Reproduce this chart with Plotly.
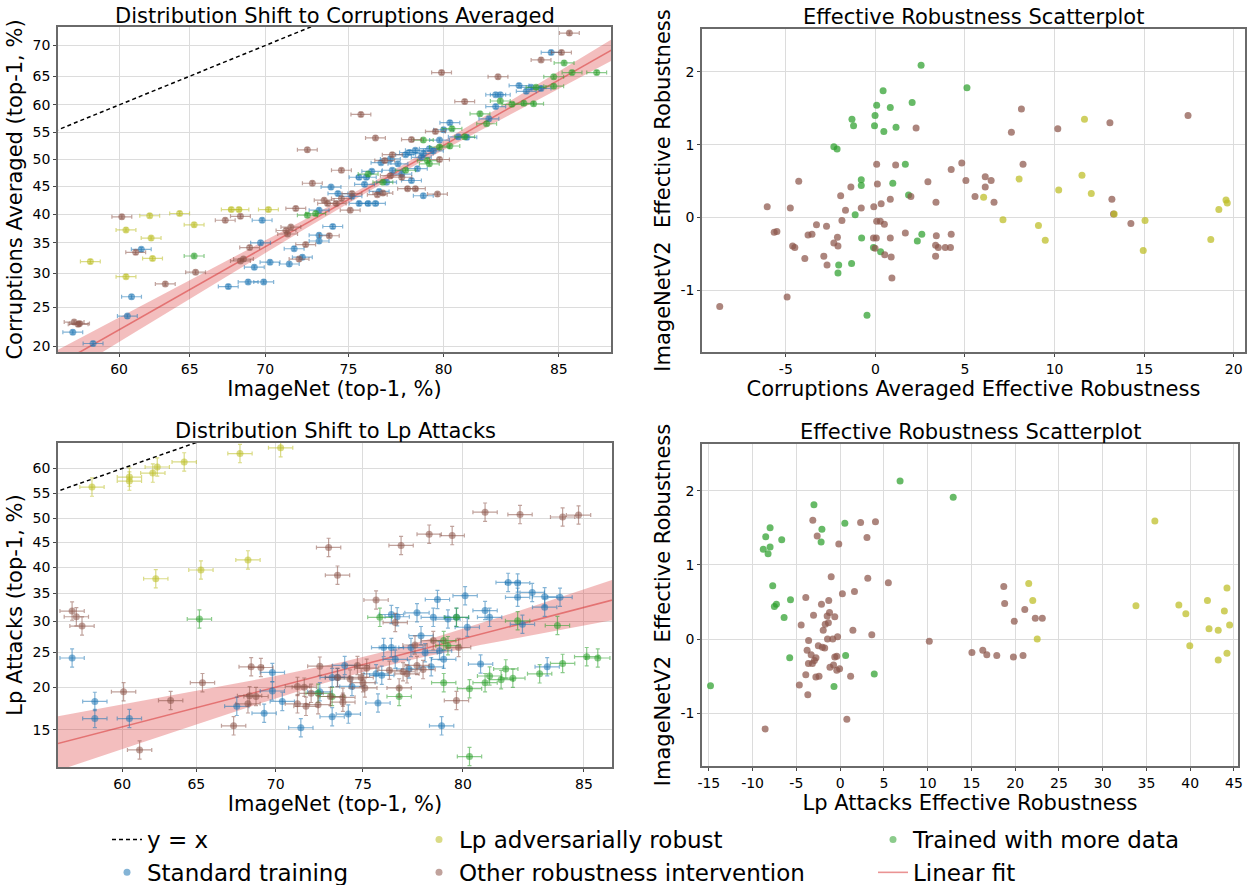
import math
import numpy as np
import plotly.graph_objects as go

# ---------------- DATA ----------------
# Top-left: ImageNet top-1 (%) vs Corruptions Averaged top-1 (%)
std_in_c = [84.7, 56.6, 58.1, 60.6, 60.9, 61.6, 67.6, 68.9, 69.9, 69.3, 70.3, 71.5, 69.7, 69.8, 71.8, 73.3, 73.3, 72.3,
            74.1, 74.0, 74.4, 73.3, 75.6, 76.0, 75.9, 75.6, 76.1, 76.5, 76.7, 76.8, 78.1, 78.6, 79.0, 79.3, 78.7, 78.4,
            79.0, 80.3, 80.0, 79.8, 80.7, 81.1, 82.4, 82.6, 83.4, 83.9, 84.3, 82.4, 82.1, 77.3, 77.7, 77.1, 77.4, 77.9,
            78.9, 78.3, 79.5, 76.3, 75.2, 83.7]
std_cor = [68.9, 21.7, 20.3, 23.8, 26.5, 33.9, 28.0, 28.7, 28.7, 31.0, 31.8, 31.5, 35.0, 38.9, 34.0, 36.3, 35.3, 32.6,
           37.8, 44.9, 43.7, 40.7, 46.7, 46.7, 45.4, 41.9, 41.9, 41.9, 44.1, 49.4, 50.9, 51.7, 51.1, 52.0, 48.3, 46.1,
           43.3, 56.8, 55.5, 53.6, 54.2, 54.1, 61.8, 61.8, 63.4, 63.1, 62.9, 59.7, 57.5, 50.1, 49.2, 45.8, 48.0, 47.3,
           50.4, 51.3, 51.6, 47.8, 43.2, 62.4]
lp_in_c = [57.9, 60.5, 60.5, 62.2, 62.3, 62.4, 64.3, 65.3, 67.8, 68.3, 70.2]
lp_cor = [31.9, 29.5, 37.2, 39.7, 35.8, 32.4, 40.1, 38.1, 40.8, 40.8, 40.8]
oth_in_c = [85.4, 85.1, 84.3, 79.9, 82.5, 81.0, 75.7, 76.5, 78.4, 79.6, 72.6, 79.8, 74.6, 77.4, 77.0, 72.9, 78.6, 78.2,
            79.7, 76.9, 76.6, 77.3, 77.9, 75.2, 75.1, 74.6, 74.3, 73.8, 73.6, 71.9, 68.4, 67.4, 60.2, 61.2, 63.3, 65.4,
            69.0, 68.6, 68.4, 71.4, 71.3, 71.6, 72.5, 72.1, 73.9, 56.7, 57.1, 57.0]
oth_cor = [71.9, 68.9, 67.7, 65.6, 64.9, 60.6, 58.3, 54.0, 53.7, 55.2, 51.8, 50.0, 48.0, 50.9, 49.8, 45.6, 44.6, 44.6,
           43.6, 43.8, 43.5, 47.0, 46.7, 43.7, 40.7, 42.8, 41.9, 41.9, 42.5, 41.0, 39.6, 38.9, 39.5, 33.4, 28.4, 30.2,
           34.2, 32.3, 32.0, 36.5, 37.1, 37.7, 34.7, 32.3, 36.2, 23.0, 22.8, 22.7]
more_in_c = [86.4, 85.5, 85.2, 84.8, 84.8, 84.1, 83.6, 83.1, 82.6, 84.0, 81.7, 82.0, 80.4, 81.0, 80.3, 79.0, 79.8, 79.2,
             79.3, 78.1, 76.1, 76.9, 72.6, 73.1, 65.3]
more_cor = [65.6, 65.6, 67.2, 64.9, 63.3, 63.1, 60.3, 60.1, 60.7, 60.2, 58.4, 56.6, 55.7, 54.2, 52.5, 53.6, 52.3, 49.8,
            49.2, 48.0, 47.3, 45.8, 39.8, 40.1, 32.8]

# Bottom-left: ImageNet top-1 (%) vs Lp Attacks top-1 (%)
std_in_l = [56.5, 58.1, 58.1, 60.5, 67.6, 69.3, 70.4, 71.5, 69.8, 69.8, 73.3, 74.2, 75.8, 73.3, 74.0, 74.4, 76.1, 76.5,
            76.8, 77.8, 78.6, 78.8, 79.3, 79.7, 80.1, 80.2, 81.0, 81.2, 82.0, 82.4, 82.4, 83.0, 83.5, 83.5, 84.1, 82.6,
            83.6, 80.8, 79.0, 79.1, 78.0, 77.5, 77.4, 78.2, 76.7, 76.5, 75.7, 76.0, 73.6, 72.6, 78.5, 78.9]
std_lp = [24.1, 18.2, 16.2, 16.2, 17.6, 16.8, 18.2, 15.2, 22.0, 19.5, 16.4, 16.7, 18.0, 21.3, 23.0, 20.1, 25.7, 31.2,
          30.8, 31.5, 30.7, 33.9, 30.4, 30.7, 34.6, 29.0, 31.9, 30.7, 37.1, 37.0, 34.3, 35.2, 34.4, 32.5, 34.3, 29.5,
          22.8, 23.2, 15.4, 23.9, 27.6, 25.7, 22.5, 24.9, 23.9, 25.7, 21.8, 21.6, 21.3, 19.4, 22.8, 25.2]
lp_in_l = [57.9, 60.5, 60.5, 62.1, 62.4, 64.2, 67.8, 70.3, 62.3, 65.3, 68.3]
lp_lp = [56.3, 58.3, 57.5, 59.1, 60.3, 61.3, 62.9, 64.0, 37.8, 39.5, 41.5]
oth_in_l = [56.5, 56.8, 57.2, 60.1, 63.3, 65.4, 61.2, 67.4, 68.5, 69.1, 68.4, 68.8, 68.3, 73.1, 73.6, 75.7, 77.0, 78.4,
            79.5, 81.0, 82.5, 84.2, 84.8, 76.7, 72.6, 75.2, 77.7, 78.6, 79.8, 79.7, 76.9, 71.3, 71.7, 72.1, 72.5, 71.8,
            71.3, 73.2, 73.9, 73.9, 73.6, 74.3, 75.0, 75.1, 74.9, 74.7, 76.4, 77.1, 77.8, 77.3, 78.1]
oth_lp = [31.8, 30.8, 29.2, 19.4, 18.3, 20.6, 13.0, 15.4, 22.8, 22.7, 18.9, 18.8, 17.9, 44.0, 38.5, 33.8, 44.4, 46.7,
          46.4, 51.2, 50.7, 50.2, 50.6, 29.8, 22.9, 22.6, 26.1, 26.8, 25.7, 18.3, 19.9, 20.1, 20.0, 19.2, 17.8, 17.6,
          17.9, 18.8, 18.7, 18.1, 21.3, 21.1, 20.6, 19.9, 21.3, 23.0, 22.3, 22.1, 23.0, 21.8, 22.4]
more_in_l = [65.2, 75.9, 79.7, 82.4, 84.0, 72.5, 73.3, 76.9, 79.1, 79.1, 79.3, 80.3, 81.0, 81.2, 81.7, 81.9, 82.2, 83.3,
             84.2, 85.1, 85.5, 80.3]
more_lp = [30.4, 30.7, 30.7, 30.1, 29.3, 19.2, 18.8, 18.8, 20.6, 26.8, 26.0, 19.8, 20.6, 21.5, 21.0, 22.5, 21.2, 21.8,
           23.3, 24.3, 24.1, 12.4]

# Top-right: Corruptions effective robustness vs ImageNetV2 effective robustness
more_cer = [2.55, 0.43, 5.11, 2.05, 0.07, 0.83, -1.31, -0.02, -1.22, -0.05, 1.15, 0.47, -2.32, -2.14, 1.67, -0.79, -0.79,
            0.97, 1.85, -1.13, -0.77, -0.11, 0.29, 2.59, 2.34, -1.33, -2.05, -2.09, -0.47]
more_v2c = [2.09, 1.74, 1.78, 1.58, 1.54, 1.51, 1.35, 1.40, 1.26, 1.26, 1.24, 1.18, 0.97, 0.94, 0.73, 0.52, 0.44, 0.47,
            0.31, 0.04, -0.28, -0.41, -0.47, -0.23, -0.32, -0.63, -0.65, -0.76, -1.34]
lp_cer = [11.67, 8.02, 6.04, 11.53, 10.23, 12.05, 7.12, 9.10, 9.48, 13.33, 15.05, 14.95, 18.72, 19.17, 19.57, 19.64]
lp_v2c = [1.35, 0.53, 0.28, 0.58, 0.38, 0.33, -0.03, -0.11, -0.31, 0.05, -0.04, -0.45, -0.30, 0.11, 0.24, 0.20]
oth_cer = [17.45, 8.15, 13.09, 7.59, 10.18, 2.27, 0.07, 1.13, 4.82, 8.24, 4.23, -4.28, 2.93, 5.05, 6.13, 6.46, 6.13,
           -1.37, 0.11, -1.94, 5.56, 1.98, 0.83, 13.20, 3.38, 6.62, 0.32, -0.09, -0.79, -6.04, -4.75, -1.67, 13.29,
           -1.87, 0.07, 0.27, 0.50, 14.26, -3.29, -2.73, -5.65, -5.50, -3.76, -3.54, -2.12, 1.67, 3.40, 4.23, -0.11,
           0.05, 0.83, -2.32, -2.09, -4.62, -4.50, -0.02, 3.36, 3.51, 3.90, 4.19, -3.94, -2.88, -2.70, 0.52, 0.88,
           3.36, 0.92, -4.93, -8.69]
oth_v2c = [1.40, 1.49, 1.30, 1.17, 1.22, 1.23, 0.73, 0.72, 0.75, 0.73, 0.66, 0.50, 0.49, 0.51, 0.56, 0.51, 0.42, 0.42,
           0.46, 0.30, 0.29, 0.29, 0.25, 0.25, 0.21, 0.21, 0.19, 0.15, 0.13, 0.15, 0.13, 0.10, 0.05, -0.04, -0.05, -0.05,
           -0.09, -0.08, -0.10, -0.12, -0.20, -0.19, -0.24, -0.23, -0.27, -0.21, -0.25, -0.23, -0.28, -0.28, -0.28,
           -0.35, -0.39, -0.39, -0.41, -0.42, -0.38, -0.41, -0.41, -0.41, -0.56, -0.53, -0.65, -0.51, -0.54, -0.53,
           -0.83, -1.09, -1.22]

# Bottom-right: Lp attacks effective robustness vs ImageNetV2 effective robustness
more_ler = [-14.81, 6.85, 12.92, -2.99, -8.0, -8.5, -6.67, -8.0, -8.78, -8.23, -2.08, -2.17, 0.54, -7.70, -7.28, -7.51,
            -5.67, -6.4, -5.76, 0.63, 3.90, -0.70]
more_v2l = [-0.63, 2.13, 1.91, 1.81, 1.50, 1.38, 1.34, 1.24, 1.21, 1.15, 1.48, 1.31, 1.56, 0.72, 0.47, 0.44, 0.53, 0.29,
            -0.25, -0.22, -0.47, -0.64]
lp_ler = [35.96, 21.55, 22.01, 22.52, 33.8, 38.7, 39.5, 39.95, 41.97, 42.15, 43.2, 43.2, 43.9, 44.2, 44.2, 44.5]
lp_v2l = [1.59, 0.75, 0.52, 0.00, 0.45, 0.46, 0.34, -0.09, 0.52, 0.14, -0.28, 0.12, 0.38, 0.69, -0.19, 0.19]
oth_ler = [-3.12, -2.62, -0.15, 2.34, 4.04, 3.07, -1.02, 3.16, 5.51, 1.64, 0.26, -3.92, -1.30, -2.13, -1.21, -3.04,
           -1.48, -0.61, -1.34, -1.70, -1.93, -4.45, 1.46, 3.62, -0.29, -1.44, -0.84, -3.60, -2.49, -2.03, -1.76,
           -3.77, -3.31, -2.76, -0.61, -0.38, -2.94, -3.62, -3.17, -0.75, -1.16, -0.06, -0.38, -3.92, -2.77, -2.41,
           1.20, -4.66, -3.69, 0.77, -8.57, 10.19, 15.06, 16.3, 16.76, 17.9, 19.8, 20.9, 18.7, 18.8, 21.1, 19.9,
           22.3, 23.1]
oth_v2l = [1.60, 1.39, 1.28, 1.57, 1.58, 1.37, 0.84, 0.82, 0.76, 0.64, 0.61, 0.56, 0.52, 0.47, 0.36, 0.32, 0.31, 0.30,
           0.22, 0.20, 0.12, 0.19, 0.12, 0.06, 0.03, 0.00, 0.00, -0.02, -0.09, -0.11, -0.12, -0.15, -0.21, -0.25, -0.24,
           -0.23, -0.29, -0.33, -0.33, -0.35, -0.38, -0.40, -0.42, -0.48, -0.51, -0.50, -0.50, -0.62, -0.75, -1.08,
           -1.21, -0.03, -0.18, -0.15, -0.21, -0.22, -0.24, -0.22, 0.71, 0.48, 0.40, 0.24, 0.28, 0.28]

# Linear fits (in logit space): slope, intercept, band centre (%), band half-width at centre, band growth
fit_cor = dict(slope=1.397, intercept=-1.832, centre=76.9, h0=0.025, k=0.109)
fit_lp = dict(slope=0.737, intercept=-2.011, centre=75.95, h0=0.06, k=0.23)

# Axis ticks / ranges
x_ticks_in = [60, 65, 70, 75, 80, 85]
y_ticks_cor = [20, 25, 30, 35, 40, 45, 50, 55, 60, 65, 70]
y_ticks_lp = [15, 20, 25, 30, 35, 40, 45, 50, 55, 60]
range_in_top = [55.5, 86.9]
range_cor = [19.3, 72.8]
range_in_bot = [55.5, 86.0]
range_lp = [11.5, 64.9]
range_cer = [-9.68, 20.63]
range_v2_top = [-1.844, 2.587]
range_ler = [-15.78, 45.46]
range_v2_bot = [-1.71, 2.629]
ticks_cer = [-5, 0, 5, 10, 15, 20]
ticks_ler = [-15, -10, -5, 0, 5, 10, 15, 20, 25, 30, 35, 40, 45]
ticks_v2 = [-1, 0, 1, 2]

# ---------------- STYLE ----------------
W, H = 1256, 885
FONT = "DejaVu Sans"
C = dict(std=(31, 119, 180), lp=(188, 189, 34), more=(44, 160, 44), oth=(140, 86, 75), fit=(214, 39, 40))
NAMES = dict(std="Standard training", lp="Lp adversarially robust", oth="Other robustness intervention",
             more="Trained with more data")


def rgba(c, a):
    return f"rgba({c[0]},{c[1]},{c[2]},{a})"


def logit(vals):
    return [math.log(v / (100.0 - v)) for v in vals]


def lg(v):
    return math.log(v / (100.0 - v))


fig = go.Figure()

LEG = dict(std=("legend", 2), lp=("legend2", 1), oth=("legend2", 2), more=("legend3", 1))


def add_fit(fit, xr, xa, ya, show):
    xs = np.linspace(lg(xr[0]) - 0.05, lg(xr[1]) + 0.05, 200)
    yc = fit["slope"] * xs + fit["intercept"]
    hw = np.sqrt(fit["h0"] ** 2 + fit["k"] ** 2 * (xs - lg(fit["centre"])) ** 2)
    fig.add_trace(go.Scatter(x=np.concatenate([xs, xs[::-1]]), y=np.concatenate([yc + hw, (yc - hw)[::-1]]),
                             fill="toself", fillcolor=rgba(C["fit"], 0.3), line=dict(width=0), mode="lines",
                             hoverinfo="skip", showlegend=False, xaxis=xa, yaxis=ya))
    fig.add_trace(go.Scatter(x=xs, y=yc, mode="lines", line=dict(color=rgba(C["fit"], 0.5), width=1.6),
                             name="Linear fit", showlegend=show, legend="legend3", legendrank=2,
                             legendgroup="fit", xaxis=xa, yaxis=ya))


def add_yx(xr, xa, ya, show):
    xs = np.linspace(lg(xr[0]) - 0.05, lg(xr[1]) + 0.05, 50)
    fig.add_trace(go.Scatter(x=xs, y=xs, mode="lines", line=dict(color="black", width=1.5, dash="4px,3px"),
                             name="y = x", showlegend=show, legend="legend", legendrank=1, legendgroup="yx",
                             xaxis=xa, yaxis=ya))


def add_err(key, xs, ys, xerr, yerr, xa, ya, show):
    col = C[key]
    fig.add_trace(go.Scatter(
        x=logit(xs), y=logit(ys), mode="markers", name=NAMES[key],
        marker=dict(size=7, color=rgba(col, 0.55), line=dict(width=0)),
        error_x=dict(type="data", array=[xerr] * len(xs), color=rgba(col, 0.55), thickness=1.2, width=2),
        error_y=dict(type="data", array=[yerr] * len(ys), color=rgba(col, 0.55), thickness=1.2, width=2),
        showlegend=show, legend=LEG[key][0], legendrank=LEG[key][1], legendgroup=key, xaxis=xa, yaxis=ya))


def add_sc(key, xs, ys, xa, ya):
    fig.add_trace(go.Scatter(x=xs, y=ys, mode="markers", name=NAMES[key],
                             marker=dict(size=7, color=rgba(C[key], 0.72), line=dict(width=0)),
                             showlegend=False, legendgroup=key, xaxis=xa, yaxis=ya))


# top-left
add_fit(fit_cor, range_in_top, "x", "y", True)
add_yx(range_in_top, "x", "y", True)
add_err("std", std_in_c, std_cor, 0.03, 0.015, "x", "y", True)
add_err("more", more_in_c, more_cor, 0.03, 0.015, "x", "y", True)
add_err("oth", oth_in_c, oth_cor, 0.03, 0.015, "x", "y", True)
add_err("lp", lp_in_c, lp_cor, 0.03, 0.015, "x", "y", True)
# bottom-left
add_fit(fit_lp, range_in_bot, "x3", "y3", False)
add_yx(range_in_bot, "x3", "y3", False)
add_err("std", std_in_l, std_lp, 0.035, 0.075, "x3", "y3", False)
add_err("more", more_in_l, more_lp, 0.035, 0.075, "x3", "y3", False)
add_err("oth", oth_in_l, oth_lp, 0.035, 0.075, "x3", "y3", False)
add_err("lp", lp_in_l, lp_lp, 0.035, 0.075, "x3", "y3", False)
# top-right
add_sc("more", more_cer, more_v2c, "x2", "y2")
add_sc("oth", oth_cer, oth_v2c, "x2", "y2")
add_sc("lp", lp_cer, lp_v2c, "x2", "y2")
# bottom-right
add_sc("more", more_ler, more_v2l, "x4", "y4")
add_sc("oth", oth_ler, oth_v2l, "x4", "y4")
add_sc("lp", lp_ler, lp_v2l, "x4", "y4")

TICKF = dict(family=FONT, size=14, color="black")
TITF = dict(family=FONT, size=21, color="black")
LEGF = dict(family=FONT, size=23, color="black")


def ax(domain, rng, tickvals, ticktext, title, anchor, standoff):
    return dict(domain=domain, range=rng, tickvals=tickvals, ticktext=ticktext, anchor=anchor,
                showgrid=True, gridcolor="#dcdcdc", gridwidth=1.3, zeroline=False,
                showline=True, mirror=True, linecolor="#6a6a6a", linewidth=1.6,
                ticks="outside", ticklen=3, tickcolor="#444", tickfont=TICKF,
                title=dict(text=title, font=TITF, standoff=standoff))


def px_x(a, b):
    return [a / W, b / W]


def px_y(top, bottom):
    return [1 - bottom / H, 1 - top / H]


xl_top = px_x(58, 611)
xr_top = px_x(702, 1245)
xl_bot = px_x(58, 612)
xr_bot = px_x(702, 1238)
y_top_l = px_y(27, 352)
y_top_r = px_y(29, 352)
y_bot_l = px_y(443, 767)
y_bot_r = px_y(444, 766)

LEG_Y = 1 - 818 / H
fig.update_layout(
    width=W, height=H, margin=dict(l=0, r=0, t=0, b=0, autoexpand=False), plot_bgcolor="white",
    paper_bgcolor="white", font=dict(family=FONT, color="black"),
    xaxis=ax(xl_top, [lg(v) for v in range_in_top], logit(x_ticks_in), [str(v) for v in x_ticks_in],
             "ImageNet (top-1, %)", "y", 1),
    yaxis=ax(y_top_l, [lg(v) for v in range_cor], logit(y_ticks_cor), [str(v) for v in y_ticks_cor],
             "Corruptions Averaged (top-1, %)", "x", 4),
    xaxis2=ax(xr_top, range_cer, ticks_cer, [str(v) for v in ticks_cer],
              "Corruptions Averaged Effective Robustness", "y2", 1),
    yaxis2=ax(y_top_r, range_v2_top, ticks_v2, [str(v) for v in ticks_v2],
              "ImageNetV2\u00a0 Effective Robustness", "x2", 4),
    xaxis3=ax(xl_bot, [lg(v) for v in range_in_bot], logit(x_ticks_in), [str(v) for v in x_ticks_in],
              "ImageNet (top-1, %)", "y3", 1),
    yaxis3=ax(y_bot_l, [lg(v) for v in range_lp], logit(y_ticks_lp), [str(v) for v in y_ticks_lp],
              "Lp Attacks (top-1, %)", "x3", 4),
    xaxis4=ax(xr_bot, range_ler, ticks_ler, [str(v) for v in ticks_ler],
              "Lp Attacks Effective Robustness", "y4", 1),
    yaxis4=ax(y_bot_r, range_v2_bot, ticks_v2, [str(v) for v in ticks_v2],
              "ImageNetV2\u00a0 Effective Robustness", "x4", 4),
    legend=dict(x=107 / W, y=LEG_Y, xanchor="left", yanchor="top", font=LEGF,
                bgcolor="rgba(0,0,0,0)", tracegroupgap=0),
    legend2=dict(x=419 / W, y=LEG_Y, xanchor="left", yanchor="top", font=LEGF,
                 bgcolor="rgba(0,0,0,0)", tracegroupgap=0),
    legend3=dict(x=873 / W, y=LEG_Y, xanchor="left", yanchor="top", font=LEGF,
                 bgcolor="rgba(0,0,0,0)", tracegroupgap=0),
)

titles = [("Distribution Shift to Corruptions Averaged", xl_top, 16),
          ("Effective Robustness Scatterplot", xr_top, 17),
          ("Distribution Shift to Lp Attacks", xl_bot, 431),
          ("Effective Robustness Scatterplot", xr_bot, 432)]
for text, dom, ypx in titles:
    fig.add_annotation(text=text, xref="paper", yref="paper", x=(dom[0] + dom[1]) / 2, y=1 - ypx / H,
                       xanchor="center", yanchor="middle", showarrow=False, font=TITF)

fig.write_html("out.html")
